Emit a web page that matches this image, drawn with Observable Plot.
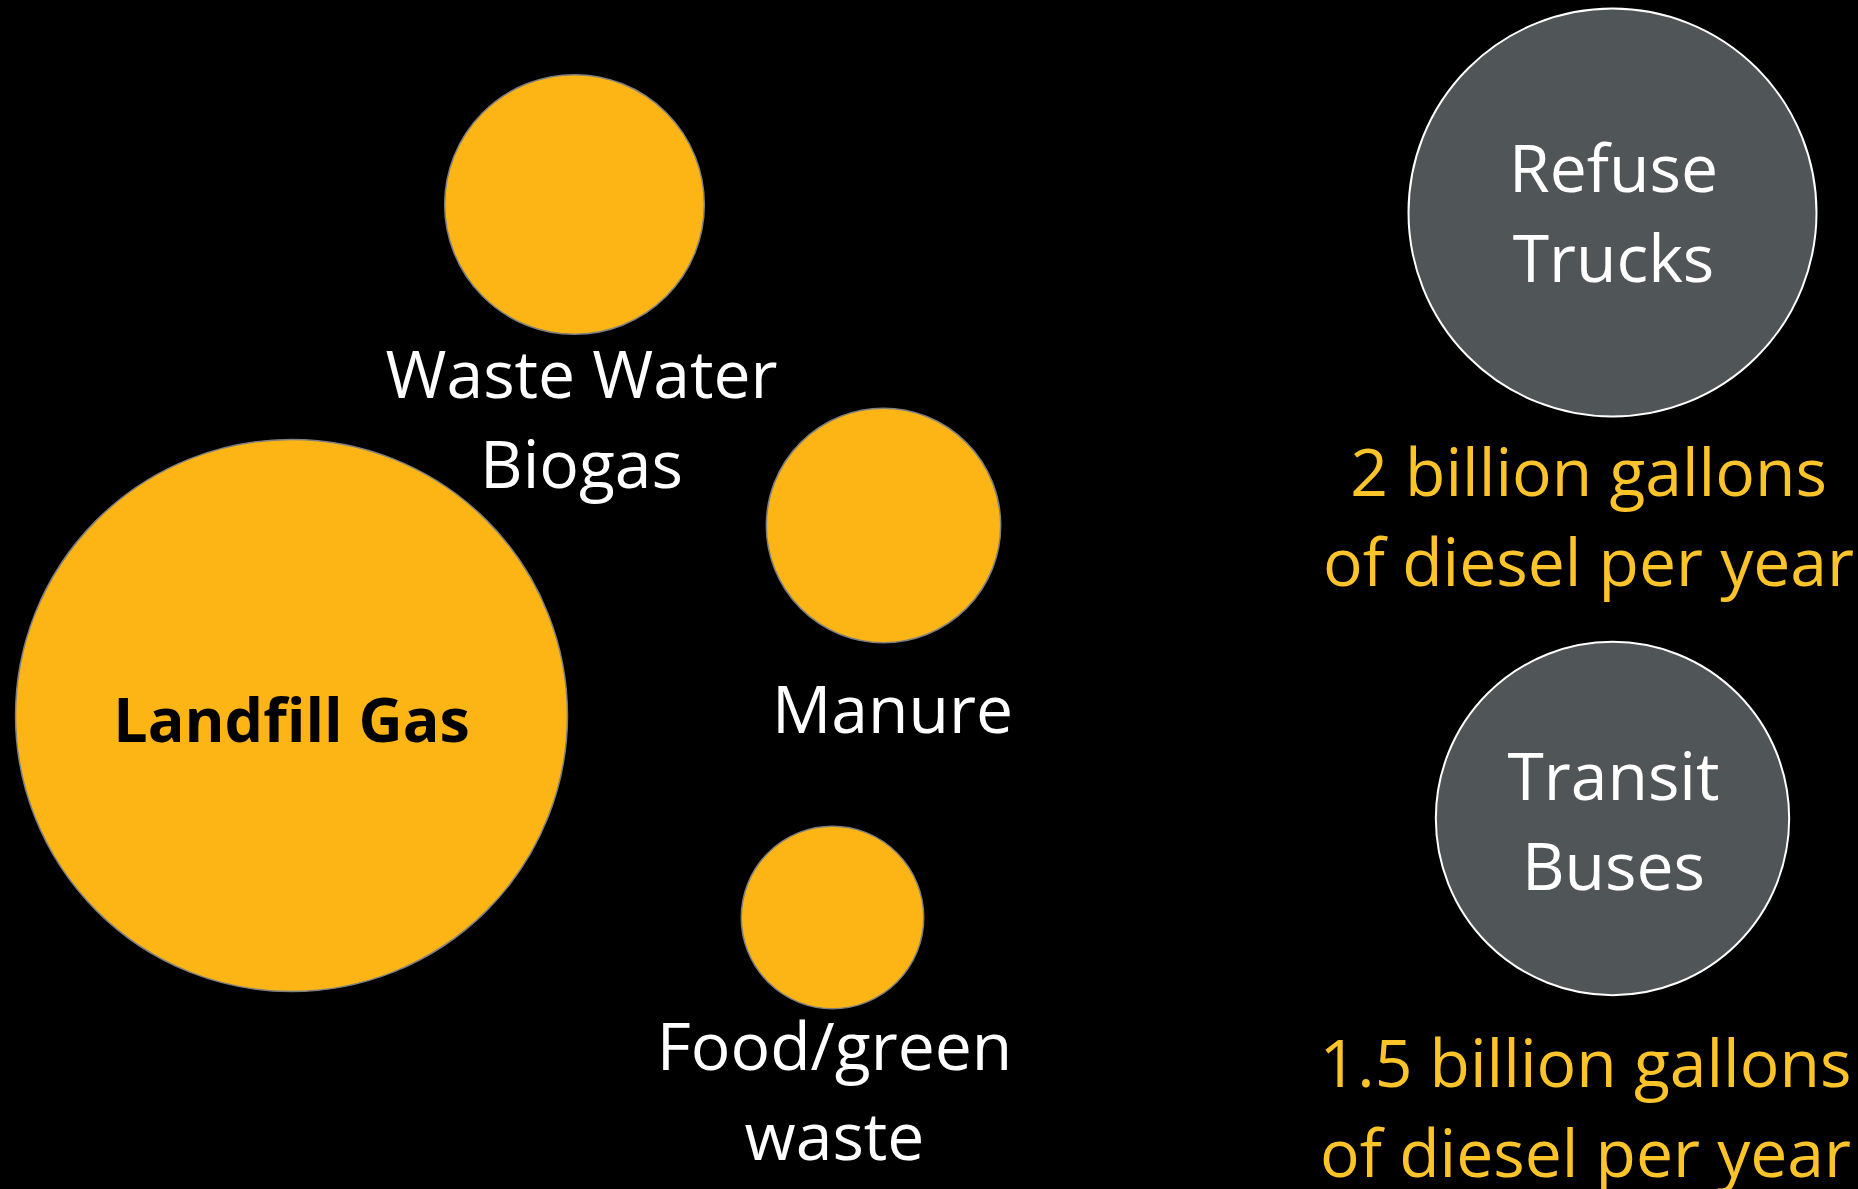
<!DOCTYPE html>
<html>
<head>
<meta charset="utf-8">
<script src="https://cdn.jsdelivr.net/npm/d3@7"></script>
<script src="https://cdn.jsdelivr.net/npm/@observablehq/plot@0.6"></script>
<style>
  html, body { margin: 0; padding: 0; background: #000; overflow: hidden; }
  #chart svg { display: block; }
</style>
</head>
<body>
<div id="chart"></div>
<script>
// ---- data (billion gallons of diesel per year) ----
const sources = ["Landfill Gas", "Waste Water Biogas", "Manure", "Food/green waste"];
const sourceValues = [3.66, 0.81, 0.66, 0.40];
const sourceLabels = ["Landfill Gas", "Waste Water\nBiogas", "Manure", "Food/green\nwaste"];

const fleets = ["Refuse Trucks", "Transit Buses"];
const fleetValues = [2, 1.5];
const fleetLabels = ["Refuse\nTrucks", "Transit\nBuses"];
const fleetNotes = ["2 billion gallons\nof diesel per year", "1.5 billion gallons\nof diesel per year"];

// ---- layout (slide units) ----
const W = 1858, H = 1189;
const sourceCenters = [[291, 715], [574, 204], [883, 525], [832, 917]];
const sourceLabelPos = [[291, 741], [581, 487], [892, 732], [834, 1159]];
const fleetCenters = [[1612, 212], [1612, 818]];
const fleetLabelPos = [[1613, 281], [1613, 889]];
const fleetNotePos = [[1588, 585], [1585, 1176]];

const srcData = sources.map((s, i) => ({name: s, value: sourceValues[i], x: sourceCenters[i][0], y: sourceCenters[i][1]}));
const fleetData = fleets.map((s, i) => ({name: s, value: fleetValues[i], x: fleetCenters[i][0], y: fleetCenters[i][1]}));
const srcLab = sourceLabels.map((t, i) => ({text: t, x: sourceLabelPos[i][0], y: sourceLabelPos[i][1], inside: i === 0}));
const fleetLab = fleetLabels.map((t, i) => ({text: t, x: fleetLabelPos[i][0], y: fleetLabelPos[i][1]}));
const noteLab = fleetNotes.map((t, i) => ({text: t, x: fleetNotePos[i][0], y: fleetNotePos[i][1]}));

const font = "'Open Sans', 'Noto Sans', sans-serif";

const chart = Plot.plot({
  width: W,
  height: H,
  margin: 0,
  style: {background: "#000", fontFamily: font},
  x: {domain: [0, W], range: [0, W], axis: null},
  y: {domain: [0, H], range: [0, H], axis: null},
  r: {type: "sqrt", domain: [0, 2], range: [0, 204]},
  marks: [
    Plot.dot(srcData, {x: "x", y: "y", r: "value", fill: "#FDB515", stroke: "#808080", strokeWidth: 1.5}),
    Plot.dot(fleetData, {x: "x", y: "y", r: "value", fill: "#505557", stroke: "#FFFFFF", strokeWidth: 2}),
    Plot.text(srcLab.filter(d => !d.inside), {x: "x", y: "y", text: "text", lineAnchor: "bottom", lineHeight: 1.35, fontSize: 66, fill: "#FFFFFF", textAnchor: "middle"}),
    Plot.text(srcLab.filter(d => d.inside), {x: "x", y: "y", text: "text", lineAnchor: "bottom", fontSize: 61, fontWeight: "bold", fill: "#000000", textAnchor: "middle"}),
    Plot.text(fleetLab, {x: "x", y: "y", text: "text", lineAnchor: "bottom", lineHeight: 1.35, fontSize: 66, fill: "#FFFFFF", textAnchor: "middle"}),
    Plot.text(noteLab, {x: "x", y: "y", text: "text", lineAnchor: "bottom", lineHeight: 1.35, fontSize: 66, fill: "#FDC42A", textAnchor: "middle"})
  ]
});
document.getElementById("chart").appendChild(chart);
</script>
</body>
</html>
